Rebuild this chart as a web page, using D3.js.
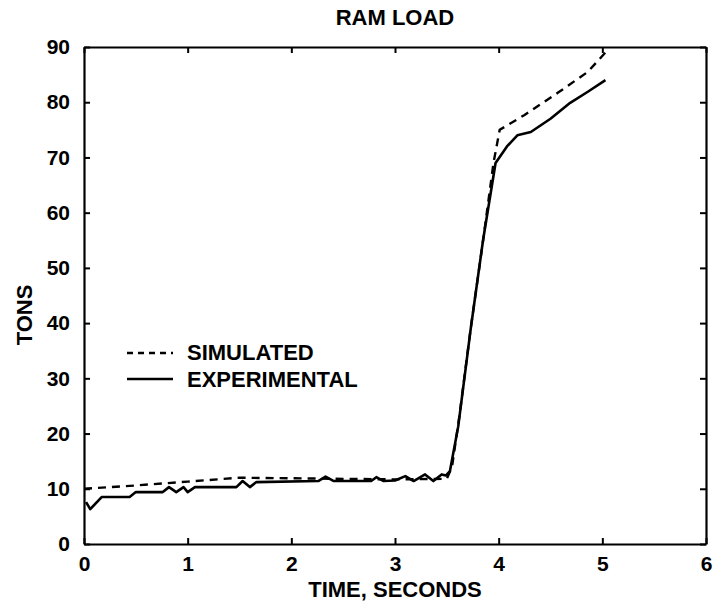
<!DOCTYPE html>
<html>
<head>
<meta charset="utf-8">
<script src="https://cdn.jsdelivr.net/npm/d3@7"></script>
<style>
body { margin: 0; background: #fff; }
text { font-family: "Liberation Sans", Arial, sans-serif; font-weight: bold; fill: #000; }
</style>
</head>
<body>
<svg></svg>
<script>
// data
var simTime = [0, 0.5, 1.0, 1.5, 2.0, 2.5, 3.0, 3.5, 3.55, 3.62, 3.73, 3.85, 3.95, 4.01, 4.25, 4.57, 4.86, 5.03];
var simTons = [10, 10.6, 11.3, 12.0, 11.9, 11.8, 11.7, 11.8, 14, 23, 39, 55, 69, 75, 77.7, 81.7, 85.5, 89];

var expTime = [0.02, 0.06, 0.17, 0.44, 0.5, 0.76, 0.82, 0.89, 0.96, 1.0, 1.07, 1.47, 1.53, 1.6, 1.66,
	2.26, 2.33, 2.41, 2.77, 2.82, 2.89, 3.0, 3.1, 3.18, 3.29, 3.37, 3.45, 3.49, 3.53,
	3.61, 3.73, 3.85, 3.97, 4.08, 4.18, 4.31, 4.5, 4.69, 4.86, 5.03];
var expTons = [7.6, 6.3, 8.5, 8.5, 9.4, 9.4, 10.3, 9.4, 10.3, 9.4, 10.3, 10.3, 11.4, 10.3, 11.2,
	11.4, 12.2, 11.4, 11.4, 12.1, 11.4, 11.5, 12.3, 11.4, 12.6, 11.4, 12.6, 12.4, 13.2,
	21.3, 38.9, 55.1, 69, 72, 74, 74.6, 77, 79.9, 81.9, 84];

var xTicks = [0, 1, 2, 3, 4, 5, 6];
var yTicks = [0, 10, 20, 30, 40, 50, 60, 70, 80, 90];

var width = 717;
var height = 608;

var margin = {
	top: 47,
	left: 84,
	bottom: 64,
	right: 11
};

var svg = d3.select("svg")
	.attr("width", width)
	.attr("height", height);

// scale
var xScale = d3.scaleLinear().domain([0, 6]).range([margin.left, width - margin.right]);
var yScale = d3.scaleLinear().domain([0, 90]).range([height - margin.bottom, margin.top]);

var simData = simTime.map(function(t, i) { return {t: t, v: simTons[i]}; });
var expData = expTime.map(function(t, i) { return {t: t, v: expTons[i]}; });

var valueline = d3.line()
	.x(function(d) { return xScale(d.t); })
	.y(function(d) { return yScale(d.v); });

// axes, ticks pointing inwards on all four sides
var bottomAxis = svg.append("g")
	.attr("transform", "translate(0," + yScale(0) + ")")
	.call(d3.axisBottom(xScale).tickValues(xTicks).tickFormat(d3.format("d"))
		.tickSizeInner(-6).tickSizeOuter(0).tickPadding(12));

var topAxis = svg.append("g")
	.attr("transform", "translate(0," + yScale(90) + ")")
	.call(d3.axisTop(xScale).tickValues(xTicks).tickSizeInner(-6).tickSizeOuter(0).tickFormat(""));

var leftAxis = svg.append("g")
	.attr("transform", "translate(" + xScale(0) + ",0)")
	.call(d3.axisLeft(yScale).tickValues(yTicks).tickFormat(d3.format("d"))
		.tickSizeInner(-6).tickSizeOuter(0).tickPadding(14));

var rightAxis = svg.append("g")
	.attr("transform", "translate(" + xScale(6) + ",0)")
	.call(d3.axisRight(yScale).tickValues(yTicks).tickSizeInner(-6).tickSizeOuter(0).tickFormat(""));

svg.selectAll(".domain").attr("stroke", "#000").attr("stroke-width", 2.2);
svg.selectAll(".tick line").attr("stroke", "#000").attr("stroke-width", 2);
svg.selectAll(".tick text")
	.style("font-size", "21px")
	.style("font-family", "Liberation Sans, Arial, sans-serif")
	.style("font-weight", "bold");

// curves
svg.append("path")
	.attr("fill", "none")
	.attr("stroke", "#000")
	.attr("stroke-width", 2.6)
	.attr("stroke-linejoin", "round")
	.attr("d", valueline(expData));

svg.append("path")
	.attr("fill", "none")
	.attr("stroke", "#000")
	.attr("stroke-width", 2.4)
	.attr("stroke-dasharray", "8,6")
	.attr("d", valueline(simData));

// titles
svg.append("text")
	.attr("text-anchor", "middle")
	.attr("x", (xScale(0) + xScale(6)) / 2)
	.attr("y", 25)
	.style("font-size", "22px")
	.text("RAM LOAD");

svg.append("text")
	.attr("text-anchor", "middle")
	.attr("x", (xScale(0) + xScale(6)) / 2)
	.attr("y", 597)
	.style("font-size", "22px")
	.text("TIME, SECONDS");

svg.append("text")
	.attr("text-anchor", "middle")
	.attr("transform", "translate(32,315)rotate(-90)")
	.style("font-size", "22px")
	.text("TONS");

// legend
var legend = svg.append("g");

legend.append("line")
	.attr("x1", 127).attr("x2", 173)
	.attr("y1", 353).attr("y2", 353)
	.attr("stroke", "#000")
	.attr("stroke-width", 2.4)
	.attr("stroke-dasharray", "6,5");

legend.append("text")
	.attr("x", 187)
	.attr("y", 360)
	.style("font-size", "22px")
	.text("SIMULATED");

legend.append("line")
	.attr("x1", 127).attr("x2", 173)
	.attr("y1", 379).attr("y2", 379)
	.attr("stroke", "#000")
	.attr("stroke-width", 2.6);

legend.append("text")
	.attr("x", 187)
	.attr("y", 387)
	.style("font-size", "22px")
	.text("EXPERIMENTAL");
</script>
</body>
</html>
